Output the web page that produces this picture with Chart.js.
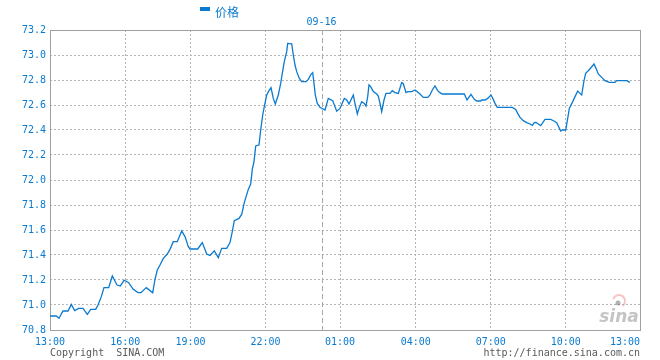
<!DOCTYPE html>
<html>
<head>
<meta charset="utf-8">
<script src="https://cdn.jsdelivr.net/npm/chart.js@4/dist/chart.umd.min.js"></script>
<style>
html,body{margin:0;padding:0;background:#fff;}
#wrap{width:660px;height:360px;position:relative;}
</style>
</head>
<body>
<div id="wrap"><canvas id="c" width="660" height="360"></canvas></div>
<script>
// ---- data (x = sample index along the session, y = price) ----
const seriesName = '价格';
const sampleIdx = [0,6.3,9,13,18,21.3,24.7,28.7,33,37.3,40.7,45.7,48,51.3,54,58.7,62.3,67,70.3,74,76.3,78.7,83,88,91,96.3,
  102.7,105,107.3,110,113.3,117.3,120,123.3,127.3,131.7,135,138.3,140,147.7,152.3,156.7,160,164.3,168.3,171.7,176.7,
  180,182.3,184.3,189,191.7,194.3,198.3,200.7,202.3,204,205.7,209,210.7,212.7,214.3,216.7,219,221,223.3,225.3,228.3,
  230.7,232.3,234.3,236.7,237.7,241.7,243.3,245,246.7,249.3,251.7,256,258.3,261,262.7,264,265.3,267.3,270,275,278.3,
  282.7,286.7,290,294.3,296.7,299,303.3,305,307.3,309,311.7,314.3,316,317.7,319,320.7,323.3,326.7,328.3,330,331.7,
  334,336,340,342.3,345,348.3,351.7,353.3,356,357.7,361.7,365,366.7,370,373.3,377.7,380,382.3,385,387.7,390,392.3,
  414.3,417,421,424.3,426.7,430.7,431.7,435,437.7,441,443.3,445,447.3,462.3,465.7,467.7,470,473.3,476.7,480,482.3,
  484.3,486,488.3,490.7,495,500.7,504,506.7,510.7,512.3,515.7,517.7,519.3,522.7,525,527.7,530,531.7,534,535.7,539,
  544,546,548.3,551.7,555,559.3,565,566.7,576.7,580];
const prices = [70.912,70.912,70.894,70.952,70.952,71.005,70.955,70.973,70.973,70.925,70.965,70.965,71.0,71.067,71.139,71.139,71.232,71.16,71.152,71.197,71.19,71.179,71.128,71.099,71.099,71.139,
  71.098,71.205,71.28,71.32,71.373,71.408,71.445,71.507,71.507,71.592,71.547,71.467,71.448,71.448,71.499,71.408,71.397,71.434,71.379,71.453,71.453,
  71.499,71.587,71.675,71.693,71.725,71.819,71.925,71.968,72.085,72.147,72.272,72.28,72.4,72.52,72.587,72.68,72.715,72.739,72.653,72.608,72.68,
  72.773,72.853,72.947,73.027,73.093,73.09,73.0,72.92,72.867,72.813,72.787,72.787,72.805,72.845,72.859,72.773,72.68,72.613,72.581,72.56,72.653,
  72.635,72.55,72.573,72.653,72.64,72.608,72.68,72.613,72.528,72.573,72.627,72.613,72.592,72.667,72.76,72.747,72.707,72.688,72.672,72.613,72.547,
  72.64,72.693,72.693,72.715,72.699,72.693,72.779,72.77,72.699,72.707,72.707,72.72,72.71,72.688,72.661,72.661,72.68,72.72,72.752,72.715,72.699,72.688,
  72.688,72.64,72.685,72.645,72.632,72.632,72.64,72.64,72.653,72.68,72.645,72.613,72.581,72.581,72.565,72.533,72.501,72.475,72.459,72.448,72.437,
  72.459,72.461,72.448,72.435,72.485,72.485,72.472,72.459,72.392,72.4,72.4,72.493,72.573,72.627,72.667,72.712,72.693,72.68,72.795,72.853,72.88,
  72.928,72.893,72.848,72.821,72.795,72.781,72.781,72.795,72.795,72.781];
const yTickValues = [70.8,71.0,71.2,71.4,71.6,71.8,72.0,72.2,72.4,72.6,72.8,73.0,73.2];
const xTickLabels = ['13:00','16:00','19:00','22:00','01:00','04:00','07:00','10:00','13:00'];
const xTickIdx = [0,75.3,140.5,215.5,290,365.7,440.7,515.7,590];
const dateLabel = '09-16';
const dateLineIdx = 271.5;
const xMin = 0, xMax = 590, yMin = 70.8, yMax = 73.2;
const copyrightLeft = 'Copyright  SINA.COM';
const copyrightRight = 'http://finance.sina.com.cn';

// ---- styles ----
const BLUE = '#0a7ad0';
const GRID = '#b4b4b4';
const FRAME = '#a0a0a0';
const MONO = '10px "DejaVu Sans Mono", monospace';

const points = sampleIdx.map((x, i) => ({x: x, y: prices[i]}));

const overlay = {
  id: 'overlay',
  beforeDatasetsDraw(chart) {
    const {ctx, chartArea: a, scales: {x}} = chart;
    ctx.save();
    // date separator
    const dx = Math.round(x.getPixelForValue(dateLineIdx)) + 0.5;
    ctx.strokeStyle = '#a8a8a8';
    ctx.lineWidth = 1;
    ctx.setLineDash([5, 3]);
    ctx.beginPath(); ctx.moveTo(dx, a.top); ctx.lineTo(dx, a.bottom); ctx.stroke();
    ctx.setLineDash([]);
    // watermark
    ctx.globalAlpha = 0.5;
    ctx.strokeStyle = '#f08a8a';
    ctx.lineWidth = 2;
    ctx.beginPath(); ctx.arc(619, 301, 6, Math.PI * 1.1, Math.PI * 2.3); ctx.stroke();
    ctx.fillStyle = '#666';
    ctx.beginPath(); ctx.arc(618, 303, 2.5, 0, Math.PI * 2); ctx.fill();
    ctx.font = 'italic bold 17px "DejaVu Sans", sans-serif';
    ctx.fillStyle = '#8a8a8a';
    ctx.textAlign = 'center';
    ctx.textBaseline = 'alphabetic';
    ctx.fillText('sina', 619, 322);
    ctx.globalAlpha = 1;
    // frame
    ctx.strokeStyle = FRAME;
    ctx.lineWidth = 1;
    ctx.strokeRect(Math.round(a.left) + 0.5, Math.round(a.top) + 0.5, Math.round(a.right - a.left), Math.round(a.bottom - a.top));
    ctx.restore();
  },
  afterDraw(chart) {
    const {ctx, chartArea: a, scales: {x}} = chart;
    ctx.save();
    // x labels
    ctx.font = MONO;
    ctx.fillStyle = BLUE;
    ctx.textBaseline = 'middle';
    xTickIdx.forEach((v, i) => {
      const px = x.getPixelForValue(v);
      ctx.textAlign = (i === xTickIdx.length - 1) ? 'right' : 'center';
      ctx.fillText(xTickLabels[i], px, a.bottom + 12);
    });
    // date label
    ctx.textAlign = 'center';
    ctx.fillText(dateLabel, x.getPixelForValue(dateLineIdx), a.top - 8);
    // legend
    ctx.fillStyle = BLUE;
    ctx.fillRect(200, 7, 10, 4);
    ctx.font = '12px "Noto Sans CJK SC", sans-serif';
    ctx.textAlign = 'left';
    ctx.fillText(seriesName, 215, 12);
    // copyright
    ctx.font = MONO;
    ctx.fillStyle = '#5a5a5a';
    ctx.textAlign = 'left';
    ctx.fillText(copyrightLeft, a.left, a.bottom + 23);
    ctx.textAlign = 'right';
    ctx.fillText(copyrightRight, a.right, a.bottom + 23);
    ctx.restore();
  }
};

new Chart(document.getElementById('c'), {
  type: 'line',
  data: {
    datasets: [{
      label: seriesName,
      data: points,
      borderColor: BLUE,
      borderWidth: 1.3,
      pointRadius: 0,
      tension: 0,
      fill: false
    }]
  },
  options: {
    responsive: false,
    animation: false,
    devicePixelRatio: 1,
    layout: {padding: {top: 30, right: 20, left: 0, bottom: 0}},
    plugins: {legend: {display: false}, tooltip: {enabled: false}},
    scales: {
      x: {
        type: 'linear', min: xMin, max: xMax,
        afterBuildTicks(s) { s.ticks = xTickIdx.map(v => ({value: v})); },
        afterFit(s) { s.height = 30; },
        ticks: {display: false},
        grid: {
          drawTicks: false,
          color: (c) => (c.index === 0 || c.index === xTickIdx.length - 1) ? 'rgba(0,0,0,0)' : GRID,
          lineWidth: 1
        },
        border: {display: false, dash: [2, 2]}
      },
      y: {
        type: 'linear', min: yMin, max: yMax,
        afterBuildTicks(s) { s.ticks = yTickValues.map(v => ({value: v})); },
        afterFit(s) { s.width = 50; },
        ticks: {
          color: BLUE, padding: 4,
          font: {family: '"DejaVu Sans Mono", monospace', size: 10},
          callback: (v) => Number(v).toFixed(1)
        },
        grid: {
          drawTicks: false,
          color: (c) => (c.index === 0 || c.index === yTickValues.length - 1) ? 'rgba(0,0,0,0)' : GRID,
          lineWidth: 1
        },
        border: {display: false, dash: [2, 2]}
      }
    }
  },
  plugins: [overlay]
});
</script>
</body>
</html>
